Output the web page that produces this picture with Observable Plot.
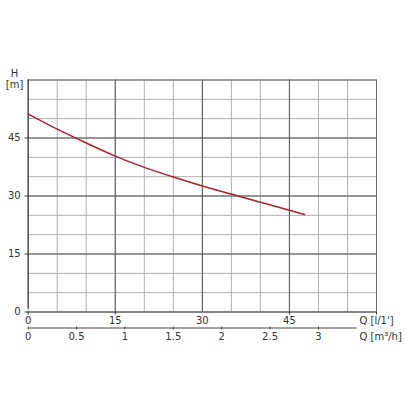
<!DOCTYPE html>
<html>
<head>
<meta charset="utf-8">
<script src="https://cdn.jsdelivr.net/npm/d3@7"></script>
<script src="https://cdn.jsdelivr.net/npm/@observablehq/plot@0.6"></script>
<style>
  html, body { margin: 0; padding: 0; background: #fff; }
</style>
</head>
<body>
<div id="chart"></div>
<script>
// Data
const curveQ = [0, 5, 10, 15, 20, 25, 30, 35, 40, 45, 47.6];          // l/min
const curveH = [51.2, 47.3, 43.7, 40.3, 37.4, 34.9, 32.6, 30.5, 28.4, 26.3, 25.2]; // m
const gridQ = [0, 5, 10, 15, 20, 25, 30, 35, 40, 45, 50, 55, 60];
const gridH = [0, 5, 10, 15, 20, 25, 30, 35, 40, 45, 50, 55, 60];
const majorQ = [15, 30, 45];
const majorH = [15, 30, 45];
const qTicks = [0, 15, 30, 45];
const qTickMarks = [0, 15, 45, 60];
const hTicks = [0, 15, 30, 45];
const m3Ticks = [0, 0.5, 1, 1.5, 2, 2.5, 3];
const m3AxisEnd = 3.4;
const qLabel = "Q [l/1']";
const m3Label = "Q [m³/h]";
const hLabel = "H";
const hUnit = "[m]";

const conv = 1000 / 60; // m³/h -> l/min
const curve = curveQ.map((q, i) => ({q, h: curveH[i]}));

const chart = Plot.plot({
  width: 406,
  height: 406,
  marginLeft: 27.7,
  marginRight: 30,
  marginTop: 79.5,
  marginBottom: 94.5,
  x: {domain: [0, 60], axis: null},
  y: {domain: [0, 60], axis: null},
  style: {fontFamily: "DejaVu Sans, sans-serif", fontSize: "10px", color: "#333", background: "#fff"},
  marks: [
    Plot.ruleX(gridQ, {stroke: "#b0b0b0", strokeWidth: 1, strokeOpacity: 1}),
    Plot.ruleY(gridH, {stroke: "#b0b0b0", strokeWidth: 1, strokeOpacity: 1}),
    Plot.ruleX(majorQ, {stroke: "#555", strokeWidth: 1, strokeOpacity: 1}),
    Plot.ruleY(majorH, {stroke: "#555", strokeWidth: 1, strokeOpacity: 1}),
    Plot.ruleX([60], {stroke: "#666", strokeWidth: 1, strokeOpacity: 1}),
    Plot.ruleY([60], {stroke: "#666", strokeWidth: 1, strokeOpacity: 1}),
    Plot.ruleY([0], {stroke: "#333", strokeWidth: 1.2, strokeOpacity: 1}),
    Plot.ruleX([0], {y1: 0, y2: 60, insetTop: -3, stroke: "#333", strokeWidth: 1.2, strokeOpacity: 1}),
    // ticks
    Plot.ruleX(qTickMarks, {y1: 0, y2: 0, insetBottom: -3, stroke: "#333", strokeOpacity: 1}),
    Plot.ruleY(hTicks, {x1: 0, x2: 0, insetLeft: -3, stroke: "#333", strokeOpacity: 1}),
    // curve
    Plot.line(curve, {x: "q", y: "h", stroke: "#a3232f", strokeWidth: 1.5, curve: "natural"}),
    // tick labels
    Plot.text(qTicks, {x: d => d, y: 0, dy: 9, text: d => String(d), fill: "#333"}),
    Plot.text(hTicks, {x: 0, y: d => d, dx: -7.5, textAnchor: "end", text: d => String(d), fill: "#333"}),
    // secondary axis
    Plot.ruleY([0], {x1: 0, x2: m3AxisEnd * conv, dy: 16, stroke: "#444", strokeOpacity: 1}),
    Plot.ruleX(m3Ticks, {x: d => d * conv, y1: 0, y2: 0, insetTop: -1, insetBottom: -2, dy: 16, stroke: "#444", strokeOpacity: 1}),
    Plot.text(m3Ticks, {x: d => d * conv, y: 0, dy: 24.5, text: d => String(d), fill: "#333"}),
    // axis labels
    Plot.text([qLabel], {x: 60, y: 0, dx: -17, dy: 9, textAnchor: "start", fill: "#333"}),
    Plot.text([m3Label], {x: 60, y: 0, dx: -17, dy: 24.5, textAnchor: "start", fill: "#333"}),
    Plot.text([hLabel], {x: 0, y: 60, dx: -13.7, dy: -6, fill: "#333"}),
    Plot.text([hUnit], {x: 0, y: 60, dx: -13.7, dy: 5, fill: "#333"})
  ]
});
document.getElementById("chart").appendChild(chart);
</script>
</body>
</html>
